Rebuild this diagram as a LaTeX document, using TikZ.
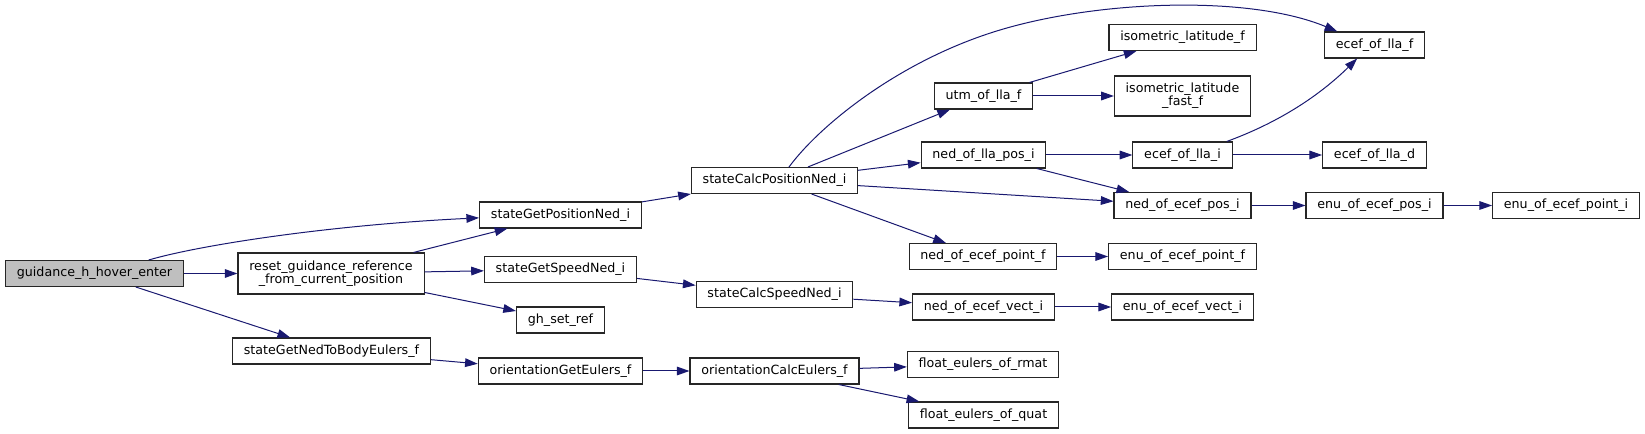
\documentclass[tikz,border=0pt]{standalone}
\usepackage{fontspec}
\setmainfont{DejaVu Sans}
\usepackage{tikz}
\usetikzlibrary{arrows.meta}
\definecolor{callblue}{RGB}{25, 25, 112}
\definecolor{rootgray}{RGB}{191, 191, 191}

\begin{document}
\begin{tikzpicture}[
        x=0.75pt, y=-0.75pt,
        fn/.style={rectangle, draw=black!85, line width=0.8pt, fill=white, inner xsep=8.5pt, inner ysep=0pt, minimum height=19.5pt, align=center, font=\fontsize{9.5}{10}\selectfont},
        call/.style={-{Triangle[length=9.5pt, width=6.5pt]}, line width=0.75pt, callblue}
    ]
        \useasboundingbox (0,0) rectangle (1645,434);

        % Nodes
        \node (hover) [fn, fill=rootgray] at (94.5,273.5) {guidance\_h\_hover\_enter};
        \node (reset) [fn, minimum height=30.75pt] at (331,273.5) {reset\_guidance\_reference\\\_from\_current\_position};
        \node (tobody) [fn] at (331.5,351) {stateGetNedToBodyEulers\_f};
        \node (getpos) [fn] at (560.5,215) {stateGetPositionNed\_i};
        \node (getspeed) [fn] at (560.5,269.5) {stateGetSpeedNed\_i};
        \node (ghref) [fn] at (560.5,320) {gh\_set\_ref};
        \node (geteul) [fn] at (560.5,371) {orientationGetEulers\_f};
        \node (calcpos) [fn] at (774.5,180.5) {stateCalcPositionNed\_i};
        \node (calcspeed) [fn] at (774.5,294.5) {stateCalcSpeedNed\_i};
        \node (calceul) [fn] at (774.5,371) {orientationCalcEulers\_f};
        \node (utm) [fn] at (983.5,96) {utm\_of\_lla\_f};
        \node (nedlla) [fn] at (983.5,155) {ned\_of\_lla\_pos\_i};
        \node (nedptf) [fn] at (983,256.5) {ned\_of\_ecef\_point\_f};
        \node (nedvect) [fn] at (983.5,307) {ned\_of\_ecef\_vect\_i};
        \node (rmat) [fn] at (983,364.5) {float\_eulers\_of\_rmat};
        \node (quat) [fn] at (983.5,415) {float\_eulers\_of\_quat};
        \node (isolat) [fn] at (1182.5,37.5) {isometric\_latitude\_f};
        \node (isofast) [fn, minimum height=30pt] at (1182.5,96) {isometric\_latitude\\\_fast\_f};
        \node (eceflli) [fn] at (1182.5,155) {ecef\_of\_lla\_i};
        \node (nedpos) [fn] at (1182.5,205.5) {ned\_of\_ecef\_pos\_i};
        \node (enuptf) [fn] at (1182.5,256.5) {enu\_of\_ecef\_point\_f};
        \node (enuvect) [fn] at (1182.5,307) {enu\_of\_ecef\_vect\_i};
        \node (ecefllf) [fn] at (1374.5,45) {ecef\_of\_lla\_f};
        \node (ecefll) [fn] at (1374.5,155) {ecef\_of\_lla\_d};
        \node (enupos) [fn] at (1374.5,205.5) {enu\_of\_ecef\_pos\_i};
        \node (enupti) [fn] at (1566,205.5) {enu\_of\_ecef\_point\_i};

        % Calls
        \draw [call] (hover) -- (reset);
        \draw [call] (hover.14) .. controls (200,245) and (330,225) .. (getpos.182);
        \draw [call] (hover) -- (tobody);
        \draw [call] (reset) -- (getpos);
        \draw [call] (reset) -- (getspeed);
        \draw [call] (reset) -- (ghref);
        \draw [call] (tobody) -- (geteul);
        \draw [call] (getpos) -- (calcpos);
        \draw [call] (getspeed) -- (calcspeed);
        \draw [call] (geteul) -- (calceul);
        \draw [call] (calcpos.43) .. controls (820,125) and (900,60) .. (1000,30)
            .. controls (1100,0) and (1250,-5) .. (ecefllf.160);
        \draw [call] (calcpos) -- (utm);
        \draw [call] (calcpos) -- (nedlla);
        \draw [call] (calcpos) -- (nedpos);
        \draw [call] (calcpos) -- (nedptf);
        \draw [call] (calcspeed) -- (nedvect);
        \draw [call] (calceul) -- (rmat);
        \draw [call] (calceul) -- (quat);
        \draw [call] (utm) -- (isolat);
        \draw [call] (utm) -- (isofast);
        \draw [call] (nedlla) -- (eceflli);
        \draw [call] (nedlla) -- (nedpos);
        \draw [call] (eceflli.17) .. controls (1280,122) and (1320,95) .. (ecefllf.218);
        \draw [call] (eceflli) -- (ecefll);
        \draw [call] (nedpos) -- (enupos);
        \draw [call] (enupos) -- (enupti);
        \draw [call] (nedptf) -- (enuptf);
        \draw [call] (nedvect) -- (enuvect);

    \end{tikzpicture}
\end{document}
